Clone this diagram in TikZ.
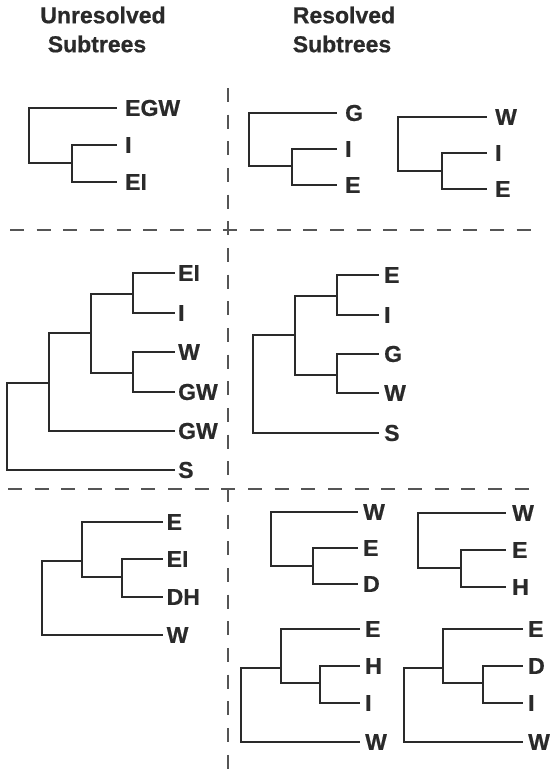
\documentclass[tikz,border=0pt]{standalone}
\usepackage{fontspec}
\setmainfont{Liberation Sans}[BoldFont={Liberation Sans Bold},BoldFeatures={FakeBold=0.6}]
\definecolor{treecol}{HTML}{2A2A2A}
\definecolor{dashcol}{HTML}{555555}
\begin{document}
\begin{tikzpicture}[x=1pt,y=-1pt,
  lbl/.style={font=\fontsize{23}{27}\selectfont\bfseries, text=treecol, inner sep=0pt},
  hdr/.style={lbl},
  leaf/.style={lbl, anchor=west, inner xsep=#1},
  leaf/.default=8pt,
  br/.style={draw=treecol, line width=2pt},
  sep/.style={draw=dashcol, line width=1.5pt, dash pattern=on 14pt off 12.67pt}]
\useasboundingbox (0,0) rectangle (552,769);
\fill[white] (0,0) rectangle (552,769);

% headers
\node[hdr] (h1a) at (103,15) {Unresolved};
\node[hdr] (h1b) at (97,44) {Subtrees};
\node[hdr] (h2a) at (344,15) {Resolved};
\node[hdr] (h2b) at (342,44) {Subtrees};

% separators
\coordinate (v0) at (228,88);
\coordinate (v1) at (228,769);
\coordinate (ha0) at (10,230);
\coordinate (ha1) at (531,230);
\coordinate (hb0) at (8,489);
\coordinate (hb1) at (530,489);
\draw[sep] (v0) -- (v1);
\draw[sep] (ha0) -- (ha1);
\draw[sep] (hb0) -- (hb1);

% ---- tree 1 (top left)
\coordinate (ar) at (29,136);
\coordinate (an) at (72,163);
\node[leaf] (a1) at (117,108) {EGW};
\node[leaf] (a2) at (117,145) {I};
\node[leaf] (a3) at (117,182) {EI};
\draw[br] (ar) |- (a1); \draw[br] (ar) |- (an);
\draw[br] (an) |- (a2); \draw[br] (an) |- (a3);

% ---- tree 2 (top middle)
\coordinate (br) at (249,140);
\coordinate (bn) at (292,166);
\node[leaf] (b1) at (337,113) {G};
\node[leaf] (b2) at (337,149) {I};
\node[leaf] (b3) at (337,185) {E};
\draw[br] (br) |- (b1); \draw[br] (br) |- (bn);
\draw[br] (bn) |- (b2); \draw[br] (bn) |- (b3);

% ---- tree 3 (top right)
\coordinate (cr) at (398,144);
\coordinate (cn) at (442,171);
\node[leaf] (c1) at (487,117) {W};
\node[leaf] (c2) at (487,153) {I};
\node[leaf] (c3) at (487,189) {E};
\draw[br] (cr) |- (c1); \draw[br] (cr) |- (cn);
\draw[br] (cn) |- (c2); \draw[br] (cn) |- (c3);

% ---- middle left
\coordinate (dr) at (7,426);
\coordinate (dA) at (49,383);
\coordinate (dB) at (91,333);
\coordinate (dC) at (133,294);
\coordinate (dD) at (133,373);
\node[leaf=3pt] (d1) at (175,273) {EI};
\node[leaf=3pt] (d2) at (175,313) {I};
\node[leaf=3pt] (d3) at (175,352) {W};
\node[leaf=3pt] (d4) at (175,392) {GW};
\node[leaf=3pt] (d5) at (175,431) {GW};
\node[leaf=3pt] (d6) at (175,470) {S};
\draw[br] (dr) |- (dA); \draw[br] (dr) |- (d6);
\draw[br] (dA) |- (dB); \draw[br] (dA) |- (d5);
\draw[br] (dB) |- (dC); \draw[br] (dB) |- (dD);
\draw[br] (dC) |- (d1); \draw[br] (dC) |- (d2);
\draw[br] (dD) |- (d3); \draw[br] (dD) |- (d4);

% ---- middle right
\coordinate (er) at (253,384);
\coordinate (eA) at (295,335);
\coordinate (eB) at (337,296);
\coordinate (eC) at (337,375);
\node[leaf=5pt] (e1) at (379,275) {E};
\node[leaf=5pt] (e2) at (379,315) {I};
\node[leaf=5pt] (e3) at (379,354) {G};
\node[leaf=5pt] (e4) at (379,393) {W};
\node[leaf=5pt] (e5) at (379,433) {S};
\draw[br] (er) |- (eA); \draw[br] (er) |- (e5);
\draw[br] (eA) |- (eB); \draw[br] (eA) |- (eC);
\draw[br] (eB) |- (e1); \draw[br] (eB) |- (e2);
\draw[br] (eC) |- (e3); \draw[br] (eC) |- (e4);

% ---- bottom left
\coordinate (fr) at (42,600);
\coordinate (fA) at (82,561);
\coordinate (fB) at (122,577);
\node[leaf=3.5pt] (f1) at (163,522) {E};
\node[leaf=3.5pt] (f2) at (163,559) {EI};
\node[leaf=3.5pt] (f3) at (163,597) {DH};
\node[leaf=3.5pt] (f4) at (163,635) {W};
\draw[br] (fr) |- (fA); \draw[br] (fr) |- (f4);
\draw[br] (fA) |- (f1); \draw[br] (fA) |- (fB);
\draw[br] (fB) |- (f2); \draw[br] (fB) |- (f3);

% ---- bottom right 1
\coordinate (gr) at (271,540);
\coordinate (gA) at (313,566);
\node[leaf=5pt] (g1) at (358,512) {W};
\node[leaf=5pt] (g2) at (358,548) {E};
\node[leaf=5pt] (g3) at (358,584) {D};
\draw[br] (gr) |- (g1); \draw[br] (gr) |- (gA);
\draw[br] (gA) |- (g2); \draw[br] (gA) |- (g3);

% ---- bottom right 2
\coordinate (kr) at (418,540);
\coordinate (kA) at (461,568);
\node[leaf=6pt] (k1) at (506,513) {W};
\node[leaf=6pt] (k2) at (506,550) {E};
\node[leaf=6pt] (k3) at (506,587) {H};
\draw[br] (kr) |- (k1); \draw[br] (kr) |- (kA);
\draw[br] (kA) |- (k2); \draw[br] (kA) |- (k3);

% ---- bottom right 3
\coordinate (mr) at (241,700);
\coordinate (mA) at (281,668);
\coordinate (mB) at (320,683);
\node[leaf=5pt] (m1) at (360,629) {E};
\node[leaf=5pt] (m2) at (360,666) {H};
\node[leaf=5pt] (m3) at (360,703) {I};
\node[leaf=5pt] (m4) at (360,742) {W};
\draw[br] (mr) |- (mA); \draw[br] (mr) |- (m4);
\draw[br] (mA) |- (m1); \draw[br] (mA) |- (mB);
\draw[br] (mB) |- (m2); \draw[br] (mB) |- (m3);

% ---- bottom right 4
\coordinate (nr) at (404,700);
\coordinate (nA) at (443,668);
\coordinate (nB) at (483,683);
\node[leaf=5pt] (n1) at (523,629) {E};
\node[leaf=5pt] (n2) at (523,666) {D};
\node[leaf=5pt] (n3) at (523,703) {I};
\node[leaf=5pt] (n4) at (523,742) {W};
\draw[br] (nr) |- (nA); \draw[br] (nr) |- (n4);
\draw[br] (nA) |- (n1); \draw[br] (nA) |- (nB);
\draw[br] (nB) |- (n2); \draw[br] (nB) |- (n3);
\end{tikzpicture}
\end{document}
